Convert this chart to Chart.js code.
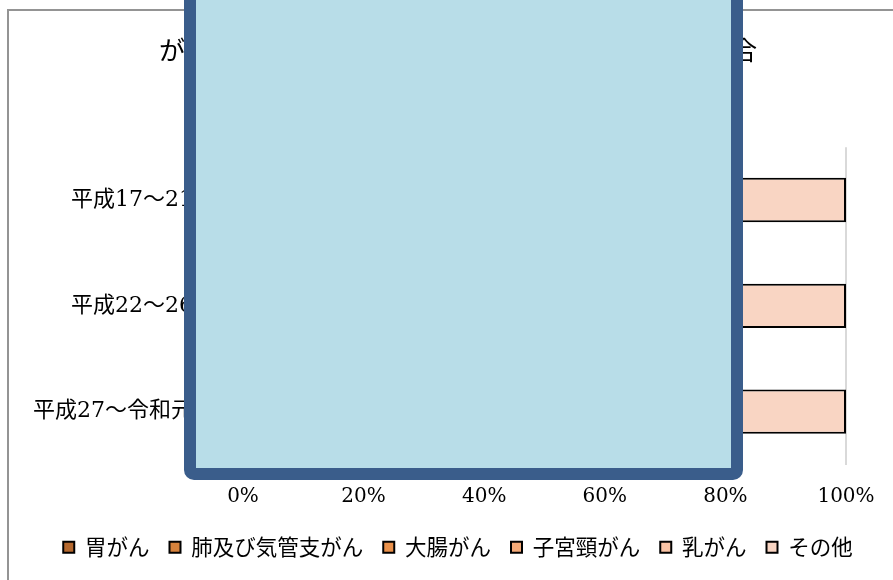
<!DOCTYPE html>
<html lang="ja">
<head>
<meta charset="utf-8">
<title>がん部位別割合</title>
<script src="https://cdn.jsdelivr.net/npm/chart.js@4.4.1/dist/chart.umd.min.js"></script>
<style>
  html, body { margin: 0; padding: 0; background: #fff; overflow: hidden; }
  .wrap { position: relative; width: 893px; height: 580px; overflow: hidden; }
  .frame {
    position: absolute; left: 7px; top: 9px; width: 940px; height: 620px;
    border-left: 2px solid #949494; border-top: 2px solid #949494;
  }
  #chart { position: absolute; left: 0; top: 0; }
  .panel {
    position: absolute; left: 184px; top: -20px; width: 559px; height: 500px;
    box-sizing: border-box; border: 12px solid #3a5d8b; background: #b8dde8;
    border-radius: 0 0 10px 10px;
  }
</style>
</head>
<body>
<div class="wrap">
  <div class="frame"></div>
  <canvas id="chart" width="908" height="580"></canvas>
  <div class="panel"></div>
</div>
<script>
// periods on the category axis
const periods = ["平成17～21年", "平成22～26年", "平成27～令和元年"];

// share of deaths by site (%)
const stomach = [15.8, 13.6, 11.9];
const lung = [13.2, 13.9, 14.1];
const colon = [15.1, 15.6, 15.9];
const cervix = [2.6, 2.9, 2.7];
const breast = [8.4, 9.6, 10.3];
const others = [44.9, 44.4, 45.1];

const xTicks = [0, 20, 40, 60, 80, 100];

const serif = "'DejaVu Serif', 'Noto Sans CJK JP', serif";
const gothic = "'Noto Sans CJK JP', sans-serif";

// one stacked dataset for each site
const makeSet = (label, data, color) => ({
  label: label,
  data: data,
  backgroundColor: color,
  borderColor: "#000",
  borderWidth: 2,
  borderSkipped: false,
  barPercentage: 0.42,
  categoryPercentage: 1,
});

const ctx = document.getElementById("chart");
new Chart(ctx, {
  type: "bar",
  data: {
    labels: periods,
    datasets: [
      makeSet("胃がん", stomach, "#b5692f"),
      makeSet("肺及び気管支がん", lung, "#d6823c"),
      makeSet("大腸がん", colon, "#ea914b"),
      makeSet("子宮頸がん", cervix, "#f5aa78"),
      makeSet("乳がん", breast, "#f9c3a5"),
      makeSet("その他", others, "#f9d5c3"),
    ],
  },
  options: {
    indexAxis: "y",
    responsive: false,
    animation: false,
    devicePixelRatio: 1,
    layout: { padding: { left: 8, top: 0, right: 0, bottom: 12 } },
    plugins: {
      title: {
        display: true,
        text: "がんによる女性の死亡者数に占める各部位別の割合",
        color: "#000",
        font: { family: gothic, size: 26, weight: "normal" },
        padding: { top: 35, bottom: 81 },
      },
      legend: {
        position: "bottom",
        labels: {
          color: "#000",
          boxWidth: 11,
          boxHeight: 11,
          padding: 20,
          font: { family: gothic, size: 21.5 },
        },
      },
      tooltip: { enabled: false },
    },
    scales: {
      x: {
        stacked: true,
        min: 0,
        max: 100,
        afterBuildTicks: (s) => {
          s.ticks = xTicks.map((v) => ({ value: v }));
        },
        ticks: {
          color: "#000",
          padding: 20,
          font: { family: serif, size: 20 },
          callback: (v) => v + "%",
        },
        grid: { color: "#d9d9d9", lineWidth: 2, drawTicks: false },
        border: { display: false },
        afterFit: (s) => {
          s.height = 52;
        },
      },
      y: {
        stacked: true,
        ticks: {
          color: "#000",
          padding: 20,
          font: { family: serif, size: 22 },
        },
        grid: { display: false },
        border: { display: false },
        afterFit: (s) => {
          s.width = 235;
        },
      },
      // empty axis on the right keeps the plot clear of the frame edge
      yRight: {
        type: "category",
        position: "right",
        ticks: { display: false },
        grid: { display: false },
        border: { display: false },
        afterFit: (s) => {
          s.width = 62;
        },
      },
    },
  },
});
</script>
</body>
</html>
